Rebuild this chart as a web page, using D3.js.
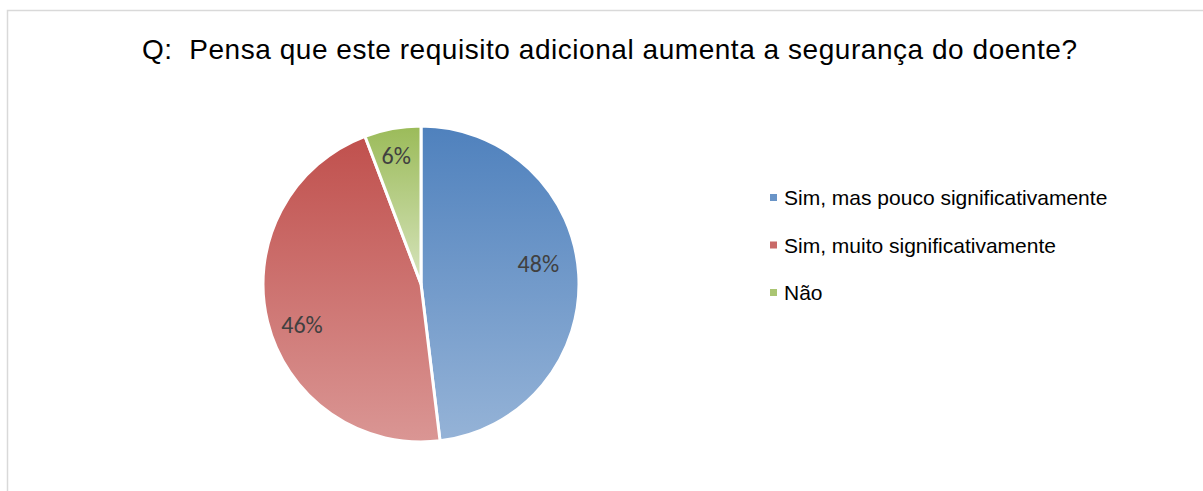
<!DOCTYPE html>
<html>
<head>
<meta charset="utf-8">
<script src="https://cdn.jsdelivr.net/npm/d3@7"></script>
<style>
  body { margin: 0; background: #fff; }
  svg { display: block; }
</style>
</head>
<body>
<svg id="chart" width="1203" height="491"></svg>
<script>
(function () {
  const width = 1203;
  const height = 491;

  // data
  const title = 'Q:  Pensa que este requisito adicional aumenta a segurança do doente?';
  const categories = ['Sim, mas pouco significativamente', 'Sim, muito significativamente', 'Não'];
  const values = [25, 24, 3];
  const topColors = ['#4f81bd', '#c0504d', '#9bbb59'];
  const bottomColors = ['#95b3d7', '#da9694', '#d7e4bd'];

  // where the data labels sit: angle (deg, clockwise from top) and distance from centre
  const labelPlace = [[80.3, 119], [250.8, 126], [349, 130]];

  const center = { x: 421, y: 284 };
  const radius = 158;

  const svg = d3.select('#chart');

  // chart frame
  svg.append('rect')
    .attr('x', 7.5)
    .attr('y', 10.5)
    .attr('width', width + 10)
    .attr('height', height + 10)
    .attr('fill', '#fff')
    .attr('stroke', '#d9d9d9')
    .attr('stroke-width', 1.5);

  svg.append('text')
    .attr('x', 142)
    .attr('y', 59)
    .attr('textLength', 935)
    .attr('lengthAdjust', 'spacing')
    .style('white-space', 'pre')
    .attr('font-family', 'Liberation Sans, Arial, sans-serif')
    .attr('font-size', 28)
    .attr('fill', '#000')
    .text(title);

  const defs = svg.append('defs');
  categories.forEach((c, i) => {
    const g = defs.append('linearGradient')
      .attr('id', 'grad' + i)
      .attr('x1', 0).attr('y1', 0)
      .attr('x2', 0).attr('y2', 1);
    g.append('stop').attr('offset', '0%').attr('stop-color', topColors[i]);
    g.append('stop').attr('offset', '100%').attr('stop-color', bottomColors[i]);
  });

  const pie = d3.pie().sort(null).value(d => d);
  const arcs = pie(values);
  const total = d3.sum(values);

  const arc = d3.arc().innerRadius(0).outerRadius(radius);

  const g = svg.append('g')
    .attr('transform', `translate(${center.x}, ${center.y})`);

  g.selectAll('.slice')
    .data(arcs)
    .enter()
    .append('path')
    .attr('class', 'slice')
    .attr('d', arc)
    .attr('fill', (d, i) => `url(#grad${i})`)
    .attr('stroke', '#fff')
    .attr('stroke-width', 3)
    .attr('stroke-linejoin', 'round');

  g.selectAll('.label')
    .data(arcs)
    .enter()
    .append('text')
    .attr('class', 'label')
    .attr('transform', (d, i) => {
      const a = labelPlace[i][0] * Math.PI / 180;
      const r = labelPlace[i][1];
      return `translate(${r * Math.sin(a)}, ${-r * Math.cos(a)})`;
    })
    .attr('text-anchor', 'middle')
    .attr('dy', '0.33em')
    .attr('font-family', 'Carlito, Lato, sans-serif')
    .attr('font-size', 24)
    .attr('fill', '#404040')
    .text(d => Math.round(d.value / total * 100) + '%');

  // legend
  const legendY = d3.scalePoint().domain(categories).range([198, 293]);
  const legend = svg.selectAll('.legend')
    .data(categories)
    .enter()
    .append('g')
    .attr('class', 'legend')
    .attr('transform', d => `translate(770, ${legendY(d)})`);

  legend.append('rect')
    .attr('x', 0)
    .attr('y', -4)
    .attr('width', 7)
    .attr('height', 7)
    .attr('fill', (d, i) => topColors[i])
    .attr('opacity', 0.85);

  legend.append('text')
    .attr('x', 14)
    .attr('y', 0)
    .attr('dy', '0.35em')
    .attr('font-family', 'Liberation Sans, Arial, sans-serif')
    .attr('font-size', 21)
    .attr('fill', '#000')
    .text(d => d);
})();
</script>
</body>
</html>
